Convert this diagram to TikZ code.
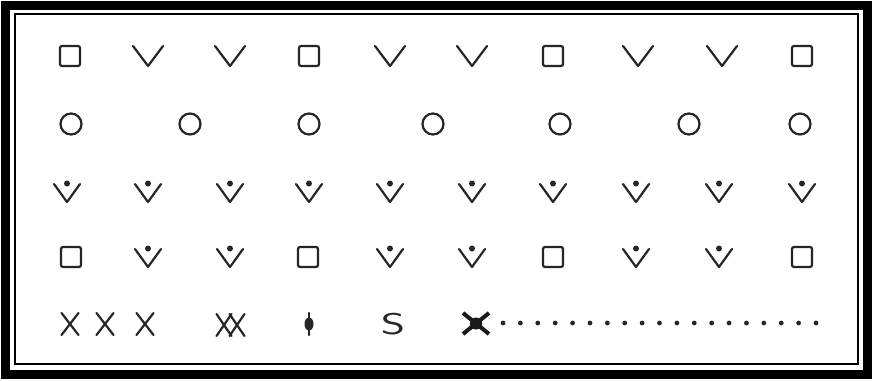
\documentclass[tikz,border=0pt]{standalone}
\usepackage{fontspec}
\begin{document}
\begin{tikzpicture}[x=1pt,y=-1pt,
  sym/.style={line width=2.2pt, line cap=round, line join=round, black!85},
  sqpic/.pic={\draw[sym, rounded corners=2pt] (-10,-10) rectangle (10,10);},
  veepic/.pic={\draw[sym] (-15,-10) -- (0,10) -- (15,-10);},
  vdpic/.pic={\draw[sym] (-13,-8) -- (0,10) -- (13,-8); \fill[black!85] (0,-8.5) circle (3);},
  cirpic/.pic={\draw[sym] (0,0) circle (10.5);},
  xpic/.pic={\draw[sym] (-8.5,-11) -- (8.5,11) (-8.5,11) -- (8.5,-11);},
  xnpic/.pic={\draw[sym] (-7.5,-11) -- (7.5,11) (-7.5,11) -- (7.5,-11);}
]
\useasboundingbox (0,0) rectangle (875,380);
\fill[white] (0,0) rectangle (875,380);
% frame
\draw[line width=9pt] (5,5) rectangle (867,374);
\draw[line width=1.5pt] (15,14) rectangle (858,364);
% row 1
\foreach \x/\t in {70/sqpic,148/veepic,230/veepic,309/sqpic,390/veepic,472/veepic,553/sqpic,638/veepic,722/veepic,802/sqpic}
  \pic at (\x,56) {\t};
% row 2
\foreach \x in {71,190,309,433,560,689,800}
  \pic at (\x,124) {cirpic};
% row 3
\foreach \x in {67,148,230,309,390,472,553,636,719,802}
  \pic at (\x,192) {vdpic};
% row 4
\foreach \x/\t in {71/sqpic,148/vdpic,230/vdpic,308/sqpic,390/vdpic,472/vdpic,553/sqpic,636/vdpic,719/vdpic,802/sqpic}
  \pic at (\x,257) {\t};
% row 5
\pic at (70,324) {xpic};
\pic at (105,324) {xpic};
\pic at (145,324) {xpic};
\pic at (224,325) {xnpic};
\pic at (237,325) {xnpic};
\draw[sym] (309,313) -- (309,335);
\fill[black!85] (309,324) ellipse (4.5 and 6.5);
\node[inner sep=0pt, xscale=1.55, font=\fontsize{30}{30}\selectfont\sffamily, black!85] (s) at (393,324) {S};
\draw[line width=4pt, black!90] (463,313) -- (489,334) (463,334) -- (489,313);
\fill[black!90] (476,323.5) circle (6);
\foreach \i in {0,...,18}
  \fill[black!85] (503+17.39*\i,323) circle (2.4);
\end{tikzpicture}
\end{document}
